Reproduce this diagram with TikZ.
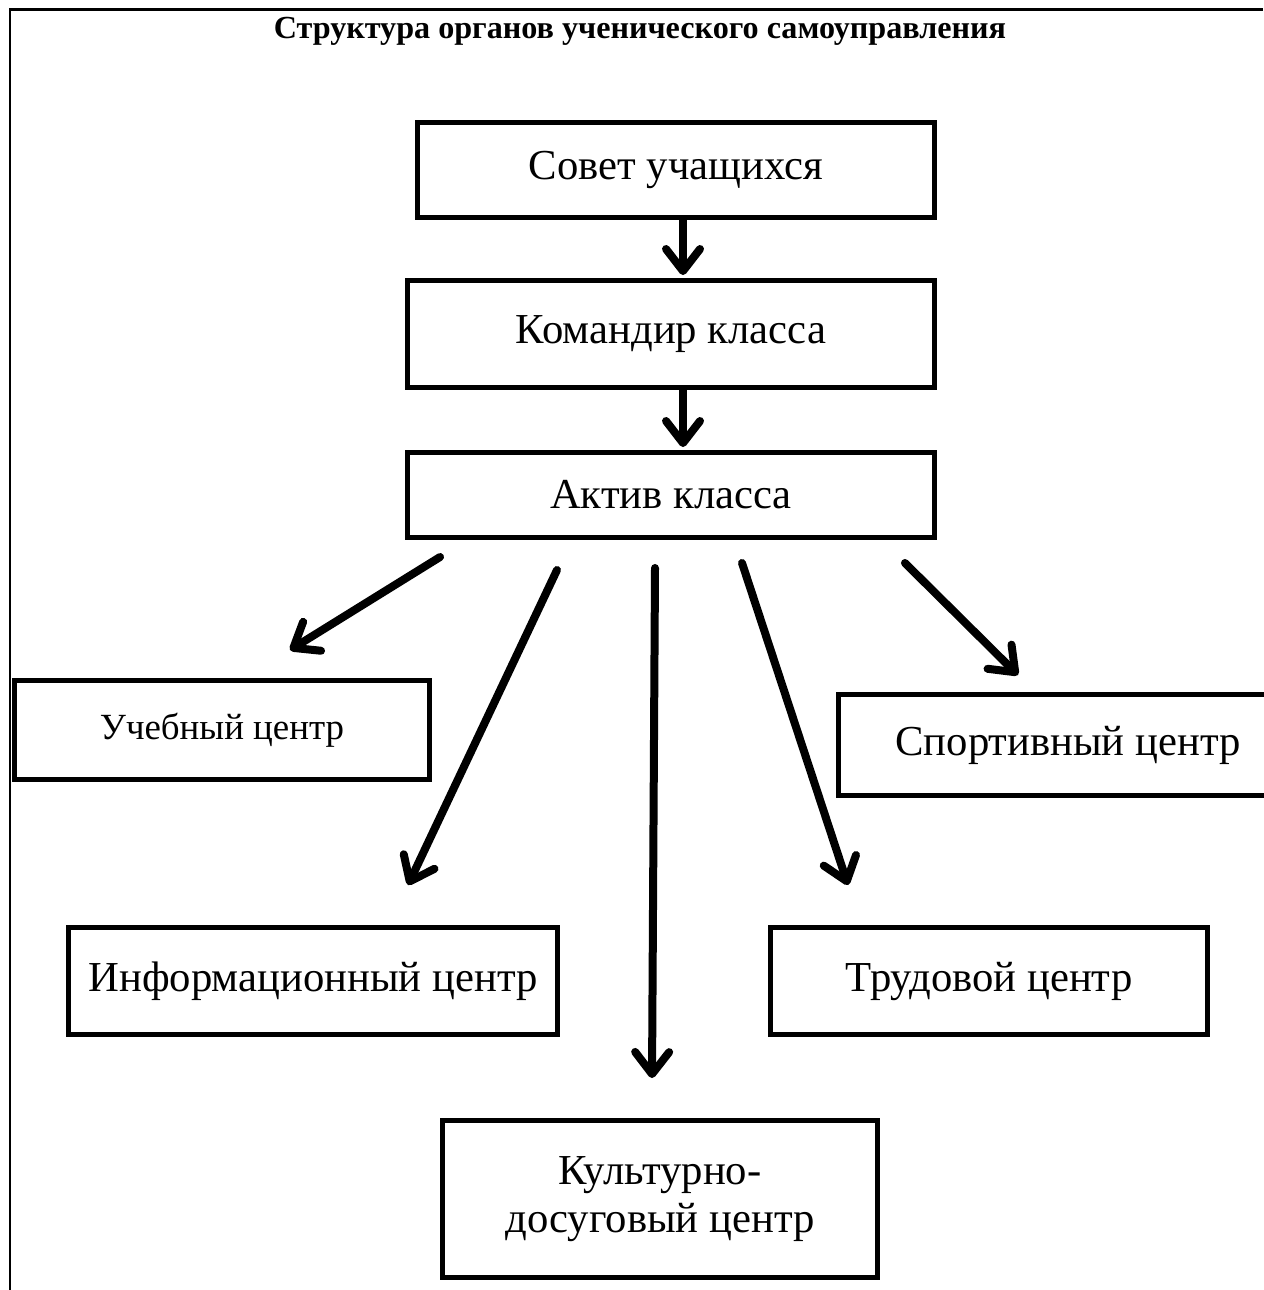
\documentclass[tikz,border=0pt]{standalone}
\usepackage{fontspec}
\setmainfont{Liberation Serif}
\usepackage{tikz}
\usetikzlibrary{arrows.meta,calc,shadows}

\begin{document}
\begin{tikzpicture}[x=0.02cm,y=-0.02cm,
        box/.style={draw, line width=0.1cm, fill=white, inner sep=0pt,
            drop shadow={shadow xshift=0.03cm, shadow yshift=-0.03cm, fill=black!35, opacity=1},
            font=\fontsize{24.3}{27}\selectfont, align=center},
        arr/.style={line width=0.16cm, line cap=round,
            -{Straight Barb[length=0.44cm, width=0.68cm, line cap=round, line join=round]},
            preaction={draw=black!30, transform canvas={shift={(0.04cm,-0.04cm)}}}},
        frame/.style={line width=0.06cm}]

        \useasboundingbox (0,0) rectangle (1263,1290);

        % Frame and title
        \draw[frame] (10,1290) -- (10,10) -- (1263,10);
        \node[font=\bfseries\fontsize{18.3}{21}\selectfont] (title) at (640,31)
            {Структура органов ученического самоуправления};

        % Defining the boxes
        \node[box, minimum width=10.34cm, minimum height=1.9cm] (sovet) at (676,170) {Совет учащихся};
        \node[box, minimum width=10.54cm, minimum height=2.14cm] (komandir) at (671,334) {Командир класса};
        \node[box, minimum width=10.54cm, minimum height=1.7cm] (aktiv) at (671,495) {Актив класса};
        \node[box, minimum width=8.3cm, minimum height=1.98cm,
            font=\fontsize{21}{24}\selectfont] (ucheb) at (222,730) {Учебный центр};
        \node[box, minimum width=9.18cm, minimum height=2.02cm] (sport) at (1068,745) {Спортивный центр};
        \node[box, minimum width=9.78cm, minimum height=2.14cm] (inform) at (313,981) {Информационный центр};
        \node[box, minimum width=8.74cm, minimum height=2.14cm] (trud) at (989,981) {Трудовой центр};
        \node[box, minimum width=8.7cm, minimum height=3.14cm] (kult) at (660,1199) {Культурно-\\досуговый центр};

        % Defining the arrows between the boxes
        \draw[arr] ($(sovet.south)+(7,0)$) -- ($(komandir.north)+(12,-3)$);
        \draw[arr] ($(komandir.south)+(12,0)$) -- ($(aktiv.north)+(12,-3)$);
        \draw[arr] ($(aktiv.south west)+(35,17)$) -- ($(ucheb.north)+(68,-28)$);
        \draw[arr] ($(aktiv.south)+(-114,30)$) -- ($(inform.north)+(95,-40)$);
        \draw[arr] ($(aktiv.south)+(-16,28)$) -- ($(kult.north)+(-8,-40)$);
        \draw[arr] ($(aktiv.south)+(71,23)$) -- ($(trud.north)+(-141,-40)$);
        \draw[arr] ($(aktiv.south east)+(-32,23)$) -- ($(sport.north)+(-50,-17)$);

\end{tikzpicture}
\end{document}
